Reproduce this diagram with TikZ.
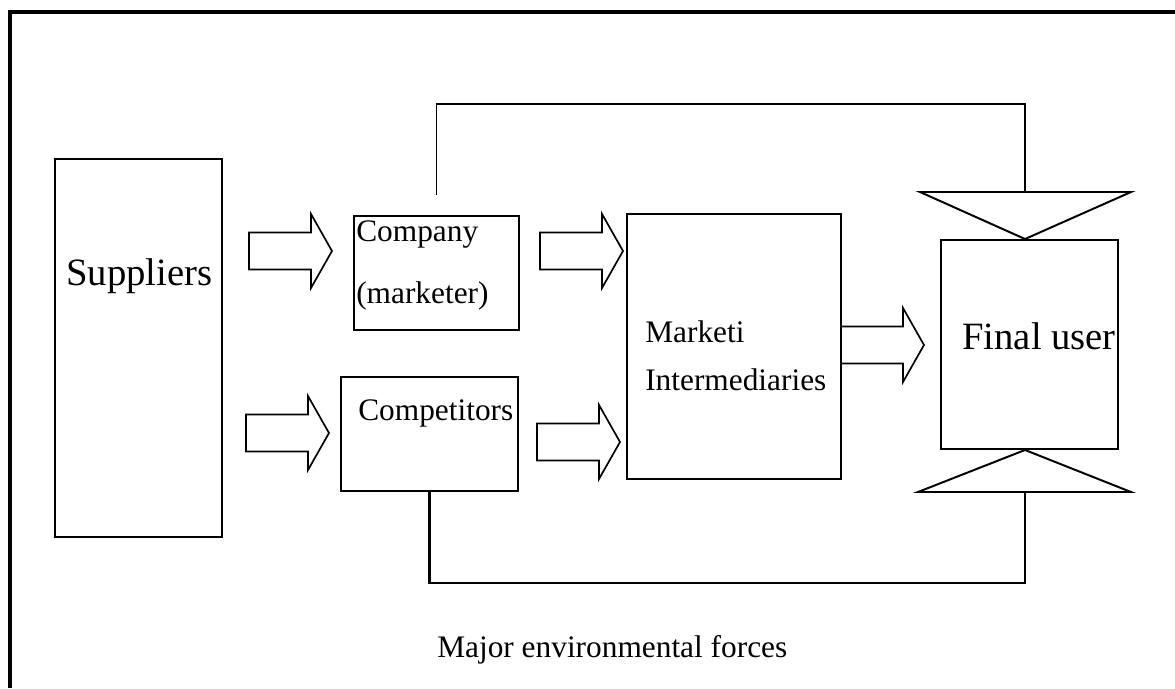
\documentclass[tikz,border=0pt]{standalone}
\usepackage{fontspec}
\setmainfont{Liberation Serif}
\usetikzlibrary{fit}
\usetikzlibrary{calc}

\tikzset{
  box/.style={draw, line width=1.4pt, inner sep=0pt},
  lbl/.style={anchor=base west, inner sep=0pt, font=\fontsize{22.3}{26}\selectfont},
  biglbl/.style={anchor=base west, inner sep=0pt, font=\fontsize{27.5}{32}\selectfont},
  link/.style={line width=1.4pt},
  bigarrow/.pic={
    \draw [line width=1.2pt, line join=miter] (0,-18.5) -- (62,-18.5) -- (62,-37) -- (83,0)
      -- (62,37) -- (62,18.5) -- (0,18.5) -- cycle;
  }
}

\begin{document}
\begin{tikzpicture}[x=0.25mm, y=-0.25mm]
    \useasboundingbox (0,0) rectangle (1175,688);
    \draw [line width=2.85pt] (10,688) -- (10,12) -- (1175,12);

    \node [box, fit={(55,159) (222,537)}] (suppliers) {};
    \node [box, fit={(354,216) (519,330)}] (company) {};
    \node [box, fit={(341,377) (518,491)}] (competitors) {};
    \node [box, fit={(627,214) (841,479)}] (intermediaries) {};
    \node [box, fit={(941,240) (1118,449)}] (finaluser) {};

    \node [biglbl] (supplierslabel) at (66,285) {Suppliers};
    \node [lbl, align=left, font=\fontsize{22.3}{43.4}\selectfont] (companylabel) at (356,303) {Company\\(marketer)};
    \node [lbl] (competitorslabel) at (358,420) {Competitors};
    \node [lbl, align=left, font=\fontsize{22.3}{34.1}\selectfont] (intermediarieslabel) at (645,390) {Marketi\\Intermediaries};
    \node [biglbl] (finaluserlabel) at (962,349) {Final user};
    \node [lbl] (forceslabel) at (437,657) {Major environmental forces};

    \pic at (249,251) {bigarrow};
    \pic at (246,433) {bigarrow};
    \pic at (540,251) {bigarrow};
    \pic at (537,442) {bigarrow};
    \pic at (841,345) {bigarrow};

    \coordinate (topin) at (1025,192);
    \coordinate (bottomin) at (1025,492);
    \draw [link] (920,192) -- (1131,192) -- (finaluser.north -| topin) -- cycle;
    \draw [link] (918,492) -- (1131,492) -- (finaluser.south -| bottomin) -- cycle;

    \draw [link] ($(company.north)+(0,-20)$) -- ++(0,-91) -| (topin);
    \draw [link, line width=2pt] (competitors.south) -- ++(0,91) -| (bottomin);
\end{tikzpicture}
\end{document}
